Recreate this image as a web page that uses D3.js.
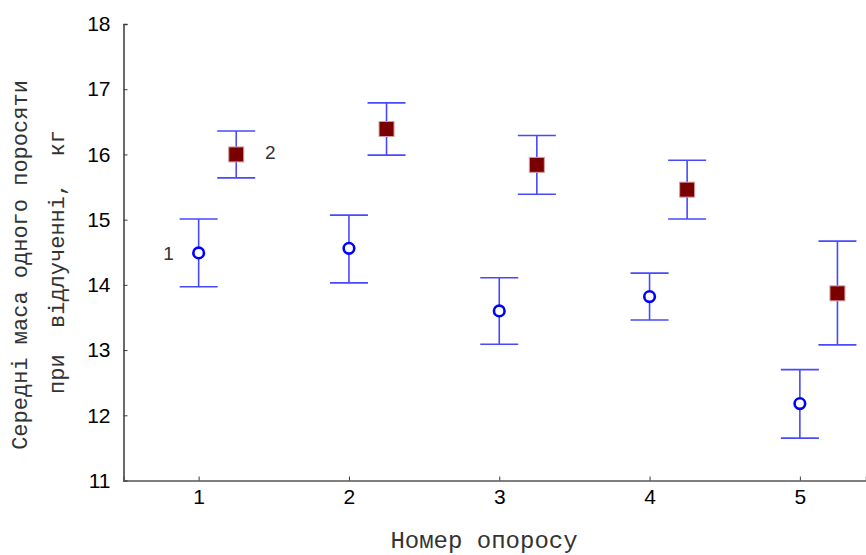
<!DOCTYPE html>
<html>
<head>
<meta charset="utf-8">
<script src="https://cdn.jsdelivr.net/npm/d3@7"></script>
<style>
  html, body { margin: 0; padding: 0; background: #fff; }
</style>
</head>
<body>
<div id="chart"></div>
<script>
// ── DATA ────────────────────────────────────────────────────────────────────
const farrowings = [1, 2, 3, 4, 5];

// series 1 — open blue circles
const s1Mean  = [14.49, 14.56, 13.60, 13.82, 12.18];
const s1Upper = [15.01, 15.07, 14.11, 14.18, 12.70];
const s1Lower = [13.97, 14.03, 13.09, 13.46, 11.65];

// series 2 — dark red squares (plotted a quarter step to the right)
const s2Mean  = [16.00, 16.39, 15.84, 15.46, 13.87];
const s2Upper = [16.36, 16.79, 16.29, 15.91, 14.67];
const s2Lower = [15.64, 15.99, 15.39, 15.01, 13.08];

const yTicks = [11, 12, 13, 14, 15, 16, 17, 18];
const xTitle = "Номер опоросу";
const yTitle1 = "Середні маса одного поросяти";
const yTitle2 = "при  відлученні,  кг";

// ── LAYOUT ──────────────────────────────────────────────────────────────────
const totalW = 866, totalH = 555;
const margin = { top: 24, right: 0, bottom: 74.5, left: 123.5 };
const W = totalW - margin.left - margin.right;
const H = totalH - margin.top - margin.bottom;

const x = d3.scaleLinear().domain([0.5, 5.44]).range([0, W]);
const y = d3.scaleLinear().domain([11, 18]).range([H, 0]);

const svg = d3.select("#chart").append("svg")
  .attr("width", totalW)
  .attr("height", totalH)
  .style("display", "block");

const g = svg.append("g")
  .attr("transform", `translate(${margin.left},${margin.top})`);

const tickFont = "Liberation Sans, Arial, sans-serif";
const titleFont = "Liberation Mono, Courier New, monospace";

// ── AXES ────────────────────────────────────────────────────────────────────
g.append("g")
  .call(d3.axisLeft(y).tickValues(yTicks).tickFormat(d3.format("d")).tickSize(-4).tickPadding(13))
  .call(ax => ax.select(".domain").attr("stroke", "#3a3a3a").attr("stroke-width", 1.5))
  .call(ax => ax.selectAll(".tick line").attr("stroke", "#3a3a3a"))
  .call(ax => ax.selectAll(".tick text")
    .attr("fill", "#000")
    .attr("font-family", tickFont)
    .attr("font-size", "21px"));

g.append("g")
  .attr("transform", `translate(0,${H})`)
  .call(d3.axisBottom(x).tickValues(farrowings).tickFormat(d3.format("d")).tickSize(-4).tickPadding(9))
  .call(ax => ax.select(".domain").attr("stroke", "#555").attr("stroke-width", 1.5))
  .call(ax => ax.selectAll(".tick line").attr("stroke", "#3a3a3a"))
  .call(ax => ax.selectAll(".tick text")
    .attr("fill", "#000")
    .attr("font-family", tickFont)
    .attr("font-size", "21px"));

// axis titles
svg.append("text")
  .attr("x", 484)
  .attr("y", 548)
  .attr("text-anchor", "middle")
  .attr("fill", "#333")
  .attr("font-family", titleFont)
  .attr("font-size", "24px")
  .text(xTitle);

[[yTitle1, 27, 265], [yTitle2, 64, 262]].forEach(([t, px, py]) => {
  svg.append("text")
    .attr("transform", `translate(${px},${py}) rotate(-90)`)
    .attr("text-anchor", "middle")
    .attr("fill", "#333")
    .attr("font-family", titleFont)
    .attr("font-size", "22px")
    .attr("xml:space", "preserve")
    .style("white-space", "pre")
    .text(t);
});

// ── ERROR BARS ──────────────────────────────────────────────────────────────
const capHalf = 19;
const barColor = "#4848ff";

function errorBars(offset, upper, lower) {
  const bars = g.append("g")
    .attr("stroke", barColor)
    .attr("stroke-width", 1.6)
    .selectAll("g")
    .data(farrowings.map((f, i) => ({ f, hi: upper[i], lo: lower[i] })))
    .join("g");

  bars.append("line")
    .attr("x1", d => x(d.f + offset)).attr("x2", d => x(d.f + offset))
    .attr("y1", d => y(d.hi)).attr("y2", d => y(d.lo));
  bars.append("line")
    .attr("x1", d => x(d.f + offset) - capHalf).attr("x2", d => x(d.f + offset) + capHalf)
    .attr("y1", d => y(d.hi)).attr("y2", d => y(d.hi));
  bars.append("line")
    .attr("x1", d => x(d.f + offset) - capHalf).attr("x2", d => x(d.f + offset) + capHalf)
    .attr("y1", d => y(d.lo)).attr("y2", d => y(d.lo));
}

errorBars(0, s1Upper, s1Lower);
errorBars(0.25, s2Upper, s2Lower);

// ── POINTS ──────────────────────────────────────────────────────────────────
g.append("g")
  .selectAll("circle")
  .data(s1Mean)
  .join("circle")
  .attr("cx", (d, i) => x(farrowings[i]))
  .attr("cy", d => y(d))
  .attr("r", 5.3)
  .attr("fill", "#fff")
  .attr("stroke", "#0000ff")
  .attr("stroke-width", 2.6);

const sq = 15;
g.append("g")
  .selectAll("rect")
  .data(s2Mean)
  .join("rect")
  .attr("x", (d, i) => x(farrowings[i] + 0.25) - sq / 2)
  .attr("y", d => y(d) - sq / 2)
  .attr("width", sq)
  .attr("height", sq)
  .attr("fill", "#7a0000")
  .attr("stroke", "#d8a0a0")
  .attr("stroke-width", 1);

// series labels next to the first points
g.append("text")
  .attr("x", x(farrowings[0]) - 30)
  .attr("y", y(s1Mean[0]))
  .attr("dy", "0.35em")
  .attr("text-anchor", "middle")
  .attr("fill", "#333")
  .attr("font-family", tickFont)
  .attr("font-size", "19px")
  .text("1");

g.append("text")
  .attr("x", x(farrowings[0] + 0.25) + 34)
  .attr("y", y(s2Mean[0]) - 2)
  .attr("dy", "0.35em")
  .attr("text-anchor", "middle")
  .attr("fill", "#333")
  .attr("font-family", tickFont)
  .attr("font-size", "19px")
  .text("2");
</script>
</body>
</html>
